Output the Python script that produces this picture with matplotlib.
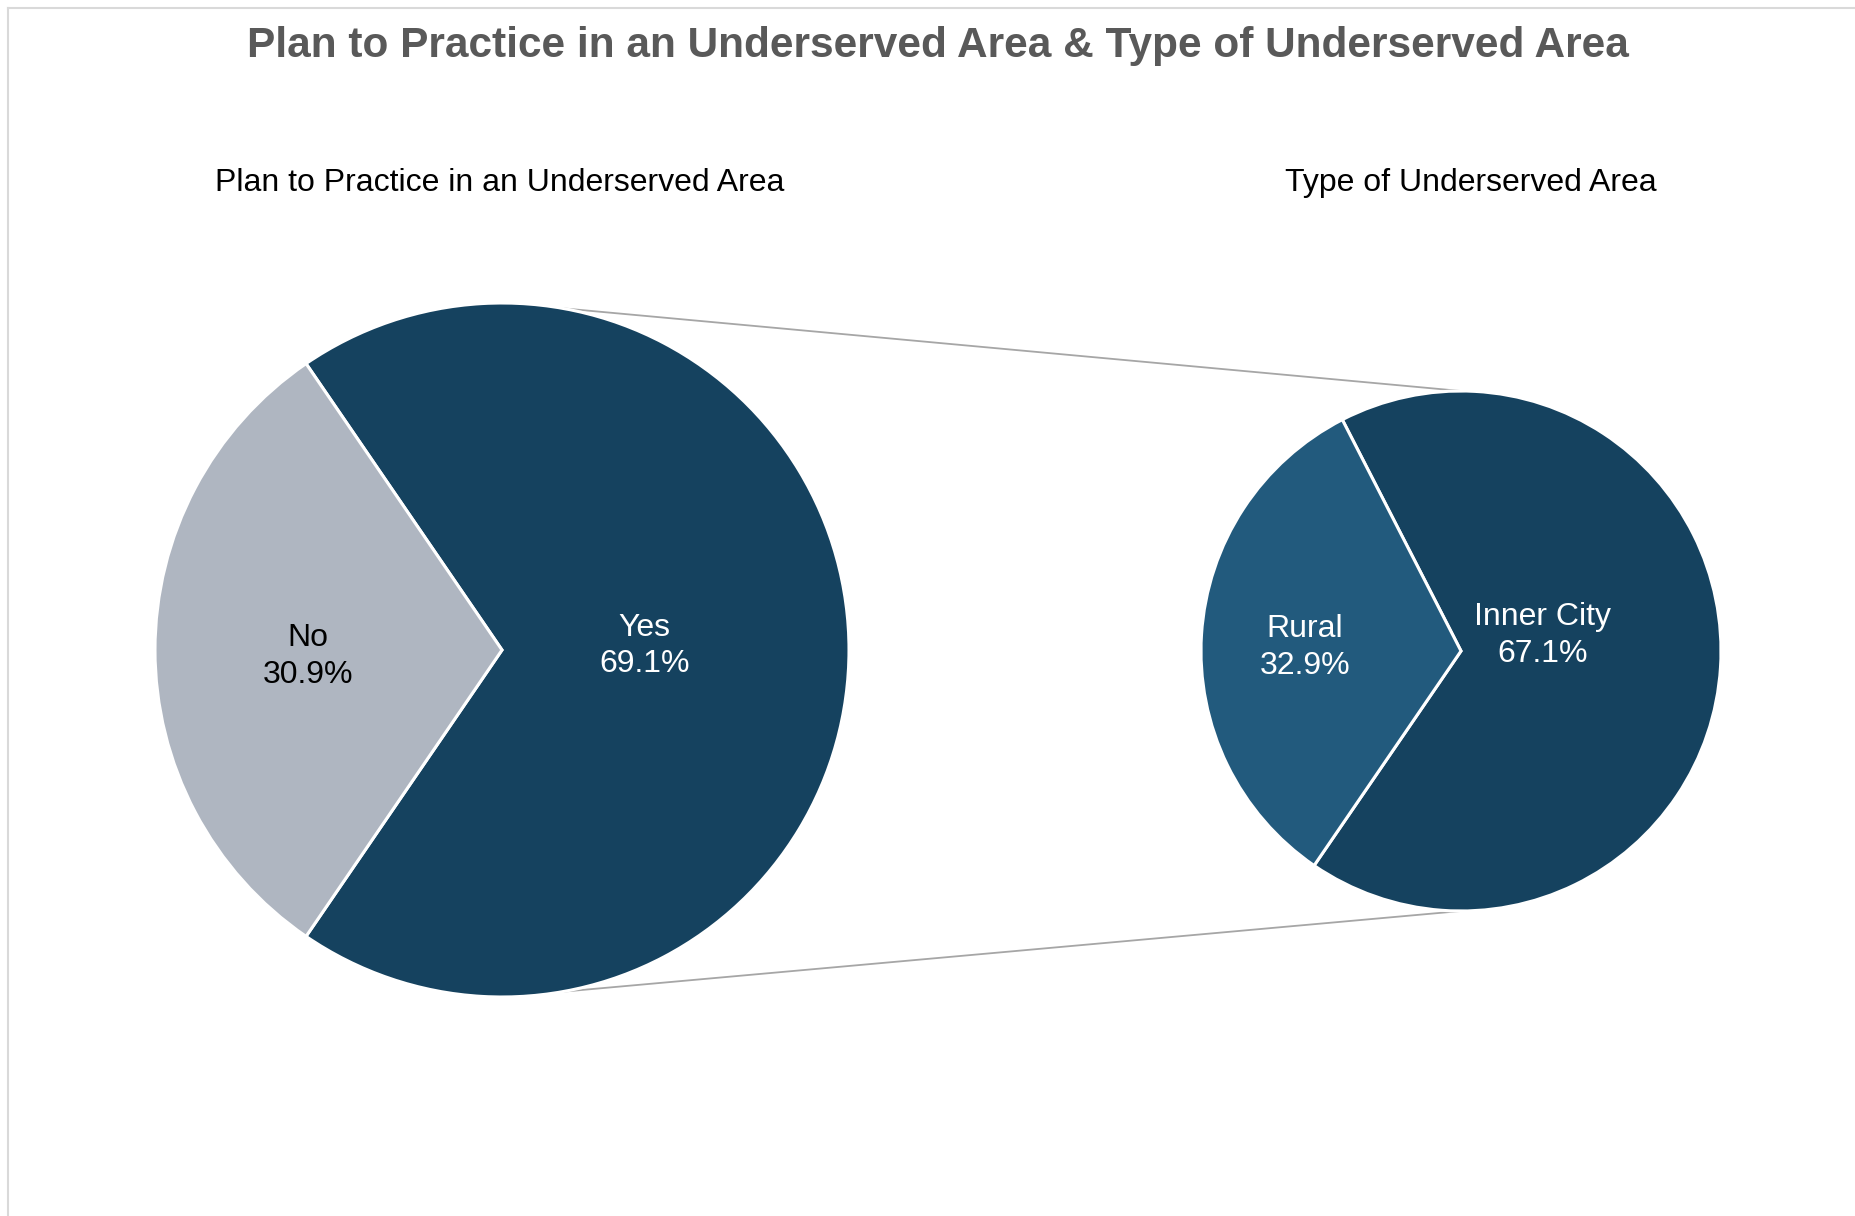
import numpy as np
import matplotlib.pyplot as plt
from matplotlib.lines import Line2D

plt.rcParams['font.family'] = ['Liberation Sans', 'DejaVu Sans']

# Données
titre = "Plan to Practice in an Underserved Area & Type of Underserved Area"
titre_g = "Plan to Practice in an Underserved Area"
titre_d = "Type of Underserved Area"

cat_g = ["Yes", "No"]
val_g = [69.1, 30.9]
cat_d = ["Inner City", "Rural"]
val_d = [67.1, 32.9]

coul_g = ["#15425F", "#AFB6C1"]
coul_d = ["#15425F", "#225A7D"]
coul_txt_g = ["white", "black"]
coul_txt_d = ["white", "white"]

W, H = 1856, 1216
fig = plt.figure(figsize=(W/100, H/100), dpi=100)
ax = fig.add_axes([0, 0, 1, 1])

# Centres et rayons (en pixels, y vers le haut)
cg, rg = (502, H - 650), 347
cd, rd = (1461, H - 651), 260

def camembert(valeurs, cats, couleurs, ctxt, centre, rayon, start, pos):
    wedges, _ = ax.pie(valeurs, colors=couleurs, startangle=start, center=centre,
                       radius=rayon, counterclock=True,
                       wedgeprops=dict(edgecolor='white', linewidth=2.2))
    for w, c, v, col, (d, da) in zip(wedges, cats, valeurs, ctxt, pos):
        a = np.deg2rad((w.theta1 + w.theta2) / 2 + da)
        x = centre[0] + d * rayon * np.cos(a)
        y = centre[1] + d * rayon * np.sin(a)
        ax.text(x, y, f"{c}\n{v}%", ha='center', va='center', fontsize=23,
                color=col, linespacing=1.3)
    return wedges

camembert(val_g, cat_g, coul_g, coul_txt_g, cg, rg, -124.38, [(0.41, 1.6), (0.56, 2.0)])
camembert(val_d, cat_d, coul_d, coul_txt_d, cd, rd, -124.4, [(0.32, 14.4), (0.6, 2.4)])

# Lignes de liaison
for s in [1, -1]:
    a = np.deg2rad(80 * s)
    x0 = cg[0] + rg * np.cos(a)
    y0 = cg[1] + rg * np.sin(a)
    ax.plot([x0, cd[0]], [y0, cd[1] + s * rd], color='#A6A6A6', lw=1.3, zorder=0)

ax.set_xlim(0, W)
ax.set_ylim(0, H)
ax.set_aspect('equal')
ax.axis('off')

fig.text(938/W, 1 - 46/H, titre, ha='center', va='center', fontsize=30.5,
         fontweight='bold', color='#595959')
fig.text(500/W, 1 - 183/H, titre_g, ha='center', va='center', fontsize=23, color='black')
fig.text(1471/W, 1 - 183/H, titre_d, ha='center', va='center', fontsize=23, color='black')

# Cadre
fig.add_artist(Line2D([8/W, 1], [1 - 8/H, 1 - 8/H], color='#D9D9D9', lw=1.5))
fig.add_artist(Line2D([8/W, 8/W], [0, 1 - 8/H], color='#D9D9D9', lw=1.5))

fig.savefig('out.png', dpi=100)
